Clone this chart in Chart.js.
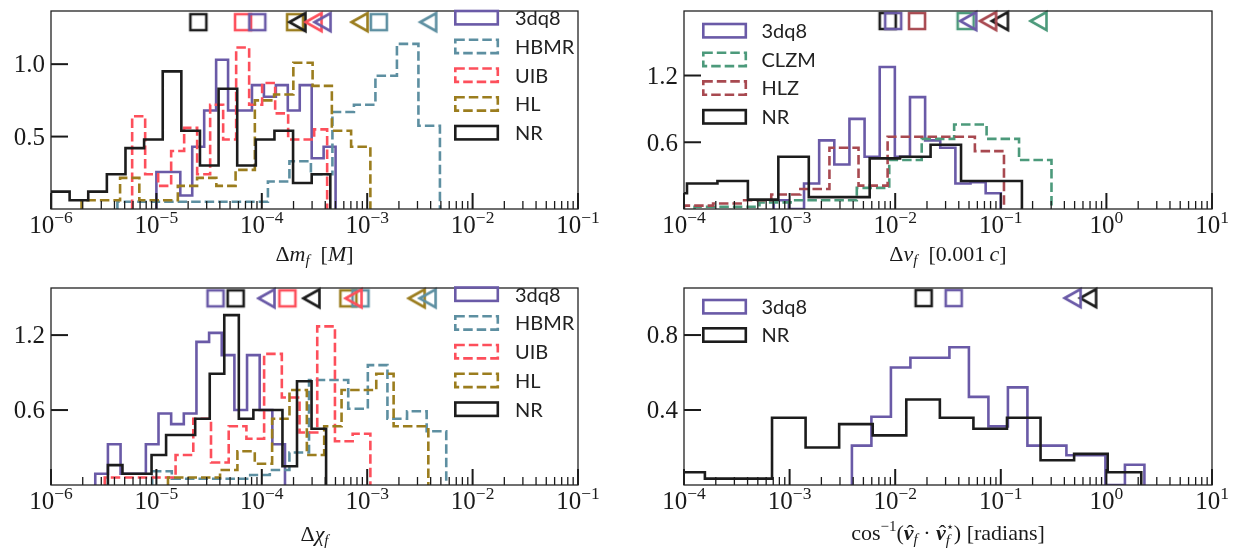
<!DOCTYPE html>
<html>
<head>
<meta charset="utf-8">
<title>Remnant errors</title>
<script src="https://cdn.jsdelivr.net/npm/chart.js@4.4.1/dist/chart.umd.min.js"></script>
<style>
  body { margin: 0; background: #fff; }
  #fig { position: relative; width: 1240px; height: 554px; }
  #fig canvas { position: absolute; }
</style>
</head>
<body>
<div id="fig">
  <canvas id="mf" width="620" height="277" style="left:0;top:0"></canvas>
  <canvas id="vf" width="620" height="277" style="left:620px;top:0"></canvas>
  <canvas id="chi" width="620" height="277" style="left:0;top:277px"></canvas>
  <canvas id="ang" width="620" height="277" style="left:620px;top:277px"></canvas>
</div>
<script>
// Bin heights of each step histogram. Every series has its own log-spaced bins,
// running between the two log10 edges kept in the matching *Log array.

// final mass error
const mf3dq8 = [0.255, 0.255, 0.093, 0.43, 0.68, 1.03, 0.68, 0.68, 0.855, 0.775, 0.855, 0.68, 0.855, 0.35, 0.43];
const mfHBMR = [0.05, 0.05, 0.05, 0.05, 0.05, 0.05, 0.05, 0.19, 0.33, 0.24, 0.67, 0.72, 0.92, 1.14, 0.575];
const mfUIB = [0.64, 0.24, 0.16, 0.40, 0.56, 0.24, 0.72, 0.48, 1.115, 0.72, 0.87, 0.66, 0.48, 0.48, 0.55];
const mfHL = [0.06, 0.06, 0.215, 0.06, 0.06, 0.16, 0.215, 0.16, 0.27, 0.75, 0.79, 1.01, 0.85, 0.54, 0.43];
const mfNR = [0.12, 0.06, 0.12, 0.24, 0.42, 0.48, 0.95, 0.54, 0.30, 0.83, 0.30, 0.48, 0.54, 0.18, 0.24];
const mf3dq8Log = [-5.00, -3.30];
const mfHBMRLog = [-5.37, -2.31];
const mfUIBLog = [-5.23, -3.38];
const mfHLLog = [-5.71, -2.97];
const mfNRLog = [-6.00, -3.35];

// kick velocity error
const vf3dq8 = [0.078, 0, 0.229, 0.617, 0.40, 0.81, 0.47, 1.276, 0.47, 1.006, 0.617, 0.55, 0.229, 0.24, 0.142];
const vfCLZM = [0.02, 0.02, 0.06, 0.078, 0.078, 0.19, 0.44, 0.63, 0.76, 0.63, 0.44];
const vfHLZ = [0.03, 0.05, 0.078, 0.13, 0.18, 0.55, 0.21, 0.65, 0.65, 0.65, 0.52];
const vfNR = [0.142, 0.229, 0.252, 0.084, 0.47, 0.107, 0.107, 0.455, 0.47, 0.577, 0.252, 0.252];
const vf3dq8Log = [-3.15, -1.00];
const vfCLZMLog = [-3.90, -0.52];
const vfHLZLog = [-4.00, -0.97];
const vfNRLog = [-4.26, -0.80];

// final spin error
const chi3dq8 = [0.09, 0.326, 0.09, 0.09, 0.326, 0.572, 0.487, 0.572, 1.146, 1.218, 1.04, 0.60, 1.04, 0.60, 0.326];
const chiHBMR = [0.11, 0.05, 0.05, 0.05, 0.05, 0.08, 0.12, 0.26, 0.84, 0.84, 0.61, 0.96, 0.53, 0.59, 0.43];
const chiUIB = [0.06, 0.06, 0.06, 0.06, 0.24, 0.53, 0.18, 0.47, 0.37, 1.05, 0.70, 0.42, 1.27, 0.35, 0.41];
const chiHL = [0.06, 0.06, 0.06, 0.12, 0.27, 0.17, 0.53, 0.76, 0.24, 0.47, 0.76, 0.76, 0.89, 0.47, 0.47];
const chiNR = [0.159, 0.09, 0.09, 0.24, 0.40, 0.40, 0.53, 0.89, 1.36, 0.53, 0.60, 0.60, 0.15, 0.83, 0.45];
const chi3dq8Log = [-5.58, -3.78];
const chiHBMRLog = [-5.04, -2.25];
const chiUIBLog = [-5.49, -2.97];
const chiHLLog = [-4.89, -2.42];
const chiNRLog = [-5.46, -3.39];

// kick direction error
const ang3dq8 = [0.21, 0.364, 0.627, 0.679, 0.679, 0.735, 0.47, 0.313, 0.521, 0.21, 0.21, 0.159, 0.159, 0, 0.108];
const angNR = [0.068, 0.034, 0.034, 0.359, 0.20, 0.325, 0.265, 0.456, 0.359, 0.30, 0.359, 0.132, 0.166, 0.068];
const ang3dq8Log = [-2.41, 0.36];
const angNRLog = [-4.12, 0.33];

// markers along the top: squares and left triangles, same order as the legend
const mfSquare = [9.06e-5, 1.29e-3, 6.64e-5, 2.07e-4, 2.50e-5];
const mfTriangle = [3.81e-4, 3.83e-3, 3.13e-4, 8.55e-4, 2.20e-4];
const vfSquare = [9.57e-3, 4.65e-2, 1.61e-2, 8.49e-3];
const vfTriangle = [4.97e-2, 0.230, 7.66e-2, 9.91e-2];
const chiSquare = [3.64e-5, 8.63e-4, 1.75e-4, 6.62e-4, 5.65e-5];
const chiTriangle = [1.12e-4, 3.78e-3, 7.50e-4, 2.98e-3, 2.99e-4];
const angSquare = [3.58e-2, 1.86e-2];
const angTriangle = [0.484, 0.678];

// axis ticks
const mfDecades = [-6, -5, -4, -3, -2, -1];
const vfDecades = [-4, -3, -2, -1, 0, 1];
const chiDecades = [-6, -5, -4, -3, -2, -1];
const angDecades = [-4, -3, -2, -1, 0, 1];
const mfYTicks = [0.5, 1.0], mfYLabels = ['0.5', '1.0'];
const vfYTicks = [0.6, 1.2], vfYLabels = ['0.6', '1.2'];
const chiYTicks = [0.6, 1.2], chiYLabels = ['0.6', '1.2'];
const angYTicks = [0.4, 0.8], angYLabels = ['0.4', '0.8'];

const COLORS = {
  '3dq8': '#6a5aa7', HBMR: '#5d8fa1', UIB: '#fd4f5b', HL: '#9b7d1e',
  NR: '#1c1c1c', CLZM: '#4c9a7b', HLZ: '#a84950'
};
const DASHED = ['HBMR', 'UIB', 'HL', 'CLZM', 'HLZ'];
const SERIF = '"Liberation Serif", "DejaVu Serif", serif';
const LW = 2.6;

// outline of a step histogram: up at the first edge, across each bin, down at the last
function histPoints(log, heights) {
  const n = heights.length;
  const edge = i => Math.pow(10, log[0] + i * (log[1] - log[0]) / n);
  const pts = [{ x: edge(0), y: 0 }];
  heights.forEach((h, i) => pts.push({ x: edge(i), y: h }));
  pts.push({ x: edge(n), y: 0 });
  return pts;
}

const markerCache = {};
function marker(kind, color) {
  const key = kind + color;
  if (markerCache[key]) return markerCache[key];
  const c = document.createElement('canvas');
  c.width = c.height = 26;
  const g = c.getContext('2d');
  g.strokeStyle = color;
  g.lineWidth = LW;
  g.beginPath();
  if (kind === 'sq') {
    g.rect(5, 5, 16, 16);
  } else {
    g.moveTo(4.5, 13);
    g.lineTo(20.5, 4);
    g.lineTo(20.5, 22);
    g.closePath();
  }
  g.stroke();
  markerCache[key] = c;
  return c;
}

function line(ctx, x1, y1, x2, y2, w) {
  ctx.lineWidth = w;
  ctx.beginPath();
  ctx.moveTo(x1, y1);
  ctx.lineTo(x2, y2);
  ctx.stroke();
}

// text made of pieces with their own style / size / shift (sub- and superscripts)
function drawRuns(ctx, runs, cx, base) {
  let x = 0, prevStart = 0, prevEnd = 0;
  const placed = [];
  runs.forEach(r => {
    const font = `${r.s || ''} ${r.z || 22}px ${SERIF}`;
    ctx.font = font;
    const w = ctx.measureText(r.t).width;
    const start = r.stack ? prevStart : x;
    placed.push({ r, font, start, w });
    x = r.stack ? Math.max(prevEnd, start + w) : start + w;
    prevStart = start;
    prevEnd = x;
  });
  const x0 = cx - x / 2;
  ctx.textAlign = 'left';
  ctx.textBaseline = 'alphabetic';
  placed.forEach(({ r, font, start, w }) => {
    ctx.font = font;
    ctx.fillText(r.t, x0 + start, base + (r.dy || 0));
    if (r.hat) {
      ctx.font = `${r.z || 22}px ${SERIF}`;
      ctx.textAlign = 'center';
      ctx.fillText('\u02c6', x0 + start + w / 2 + 1.5, base);
      ctx.textAlign = 'left';
    }
  });
}

function makeDecor(p) {
  return {
    id: 'decor',
    afterDatasetsDraw(chart) {
      const { ctx, chartArea: a, scales: { x, y } } = chart;
      ctx.save();
      ctx.setLineDash([]);
      ctx.strokeStyle = '#1a1a1a';
      ctx.fillStyle = '#1a1a1a';

      // x ticks (inside) and 10^n labels
      const last = p.decades[p.decades.length - 1];
      p.decades.forEach(e => {
        const px = x.getPixelForValue(Math.pow(10, e));
        line(ctx, px, a.bottom, px, a.bottom - 16, 2);
        if (e < last) {
          for (let m = 2; m < 10; m++) {
            const q = x.getPixelForValue(m * Math.pow(10, e));
            line(ctx, q, a.bottom, q, a.bottom - 8, 1.3);
          }
        }
        const exp = e < 0 ? '\u2212' + (-e) : String(e);
        drawRuns(ctx, [{ t: '10', z: 25 }, { t: exp, z: 17.5, dy: -10 }], px, a.bottom + 24);
      });

      // y ticks
      ctx.font = `25px ${SERIF}`;
      ctx.textAlign = 'right';
      ctx.textBaseline = 'alphabetic';
      p.yTicks.forEach((v, i) => {
        const py = y.getPixelForValue(v);
        line(ctx, a.left, py, a.left + 17, py, 2);
        ctx.fillText(p.yLabels[i], a.left - 6, py + 8.3);
      });

      // frame
      ctx.lineWidth = 1.3;
      ctx.strokeStyle = '#222';
      ctx.strokeRect(a.left, a.top, a.right - a.left, a.bottom - a.top);

      // axis title
      ctx.fillStyle = '#1a1a1a';
      drawRuns(ctx, p.xlabel, (a.left + a.right) / 2, p.labelBase);

      // legend
      const L = p.legend;
      ctx.textAlign = 'left';
      ctx.font = '20px Lato, "Noto Sans", sans-serif';
      p.series.forEach((s, i) => {
        const cy = L.top + i * L.gap;
        ctx.strokeStyle = COLORS[s.name];
        ctx.lineWidth = LW;
        ctx.setLineDash(DASHED.includes(s.name) ? [9.5, 4] : []);
        ctx.strokeRect(L.x, cy - 6.7, 42.5, 13.4);
        ctx.setLineDash([]);
        ctx.fillStyle = '#222';
        ctx.fillText(s.name, L.tx, cy + 7.3);
      });
      ctx.restore();
    }
  };
}

function panel(p) {
  const n = p.series.length;
  const datasets = [];
  p.series.forEach((s, i) => {
    datasets.push({
      data: histPoints(s.log, s.h),
      borderColor: COLORS[s.name],
      borderWidth: LW,
      borderDash: DASHED.includes(s.name) ? [9.5, 4] : [],
      borderJoinStyle: 'miter',
      stepped: true,
      pointRadius: 0,
      fill: false,
      clip: 0,
      order: n - i + 2
    });
  });
  ['sq', 'tri'].forEach((kind, k) => {
    const vals = kind === 'sq' ? p.sq : p.tri;
    p.series.forEach((s, i) => {
      datasets.push({
        data: [{ x: vals[i], y: p.markY }],
        showLine: false,
        pointStyle: marker(kind, COLORS[s.name]),
        pointRadius: 10,
        clip: false,
        order: 1 - k
      });
    });
  });

  new Chart(document.getElementById(p.id), {
    type: 'line',
    data: { datasets },
    options: {
      responsive: false,
      animation: false,
      devicePixelRatio: 1,
      events: [],
      layout: { padding: p.pad },
      plugins: { legend: { display: false }, tooltip: { enabled: false } },
      scales: {
        x: { type: 'logarithmic', min: Math.pow(10, p.decades[0]), max: Math.pow(10, p.decades[p.decades.length - 1]), display: false },
        y: { type: 'linear', min: 0, max: p.yMax, display: false }
      }
    },
    plugins: [makeDecor(p)]
  });
}

const sub = (t) => ({ t, s: 'italic', z: 15, dy: 4 });

panel({
  id: 'mf', pad: { left: 51, right: 42, top: 4, bottom: 68 },
  decades: mfDecades, yMax: 1.367, yTicks: mfYTicks, yLabels: mfYLabels, markY: 1.29,
  series: [
    { name: '3dq8', h: mf3dq8, log: mf3dq8Log },
    { name: 'HBMR', h: mfHBMR, log: mfHBMRLog },
    { name: 'UIB', h: mfUIB, log: mfUIBLog },
    { name: 'HL', h: mfHL, log: mfHLLog },
    { name: 'NR', h: mfNR, log: mfNRLog }
  ],
  sq: mfSquare, tri: mfTriangle,
  legend: { x: 455.3, tx: 515, top: 17.7, gap: 28.75 },
  labelBase: 261,
  xlabel: [{ t: '\u0394' }, { t: 'm', s: 'italic' }, sub('f'), { t: '  [' }, { t: 'M', s: 'italic' }, { t: ']' }]
});

panel({
  id: 'vf', pad: { left: 64, right: 28, top: 4, bottom: 68 },
  decades: vfDecades, yMax: 1.78, yTicks: vfYTicks, yLabels: vfYLabels, markY: 1.69,
  series: [
    { name: '3dq8', h: vf3dq8, log: vf3dq8Log },
    { name: 'CLZM', h: vfCLZM, log: vfCLZMLog },
    { name: 'HLZ', h: vfHLZ, log: vfHLZLog },
    { name: 'NR', h: vfNR, log: vfNRLog }
  ],
  sq: vfSquare, tri: vfTriangle,
  legend: { x: 83.3, tx: 141.5, top: 30.7, gap: 28.7 },
  labelBase: 261,
  xlabel: [{ t: '\u0394' }, { t: 'v', s: 'italic' }, sub('f'), { t: '  [0.001\u2009' }, { t: 'c', s: 'italic' }, { t: ']' }]
});

panel({
  id: 'chi', pad: { left: 51, right: 42, top: 3, bottom: 69 },
  decades: chiDecades, yMax: 1.577, yTicks: chiYTicks, yLabels: chiYLabels, markY: 1.494,
  series: [
    { name: '3dq8', h: chi3dq8, log: chi3dq8Log },
    { name: 'HBMR', h: chiHBMR, log: chiHBMRLog },
    { name: 'UIB', h: chiUIB, log: chiUIBLog },
    { name: 'HL', h: chiHL, log: chiHLLog },
    { name: 'NR', h: chiNR, log: chiNRLog }
  ],
  sq: chiSquare, tri: chiTriangle,
  legend: { x: 455.3, tx: 515, top: 17.2, gap: 28.75 },
  labelBase: 264,
  xlabel: [{ t: '\u0394' }, { t: '\u03c7', s: 'italic' }, sub('f')]
});

panel({
  id: 'ang', pad: { left: 64, right: 28, top: 3, bottom: 69 },
  decades: angDecades, yMax: 1.051, yTicks: angYTicks, yLabels: angYLabels, markY: 0.997,
  series: [
    { name: '3dq8', h: ang3dq8, log: ang3dq8Log },
    { name: 'NR', h: angNR, log: angNRLog }
  ],
  sq: angSquare, tri: angTriangle,
  legend: { x: 83.3, tx: 141.5, top: 29.7, gap: 28.3 },
  labelBase: 263,
  xlabel: [
    { t: 'cos' }, { t: '\u22121', z: 15, dy: -9 }, { t: '(' },
    { t: 'v', s: 'bold italic', hat: true }, sub('f'), { t: ' \u00b7 ' },
    { t: 'v', s: 'bold italic', hat: true }, { t: '\u22c6', z: 13, dy: -9 }, { t: 'f', s: 'italic', z: 15, dy: 5, stack: true },
    { t: ') [radians]' }
  ]
});
</script>
</body>
</html>
